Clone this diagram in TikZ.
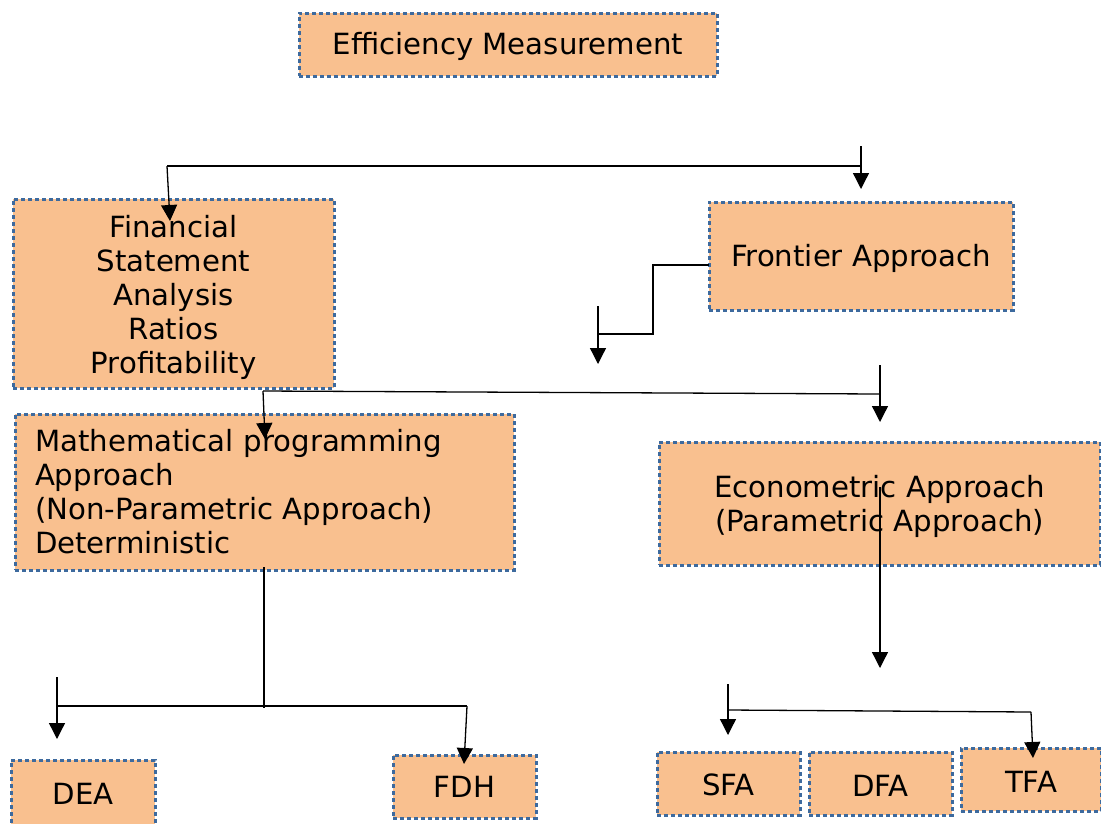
\documentclass[tikz,border=0pt]{standalone}
\usepackage{fontspec}
\setmainfont{DejaVu Sans}
\usetikzlibrary{arrows.meta}
\definecolor{boxfill}{RGB}{249,192,143}
\definecolor{boxline}{RGB}{61,106,158}
\newcommand\topstrut[1]{\rule{0pt}{#1}}
\tikzset{
  box/.style={draw=boxline, fill=boxfill, line width=3pt, dash pattern=on 4pt off 3pt,
    font=\fontsize{29.2}{34}\selectfont, inner sep=0pt, outer sep=0pt},
  link/.style={draw=black, line width=1.3pt},
  arr/.style={link, -{Triangle[length=16pt,width=16pt]}},
}
\begin{document}
\begin{tikzpicture}[x=1pt,y=-1pt]
\useasboundingbox (0,0) rectangle (1101,823);
% boxes
\node[box, minimum width=418pt, minimum height=63pt] (eff) at (508,44.5) {\topstrut{27pt}Efficiency Measurement};
\node[box, minimum width=321pt, minimum height=189pt, align=center] (fin) at (173.5,293.5)
  {\topstrut{29.5pt}Financial\\Statement\\Analysis\\Ratios\\Profitability};
\node[box, minimum width=304pt, minimum height=108pt] (front) at (861,256) {\topstrut{28pt}Frontier Approach};
\node[box, minimum width=499pt, minimum height=156pt, text width=459pt, inner xsep=20pt, align=left] (math) at (264.5,492)
  {Mathematical programming\\Approach\\(Non-Parametric Approach)\\Deterministic};
\node[box, minimum width=441pt, minimum height=123pt, align=center] (econ) at (879.5,503.5)
  {\topstrut{28pt}Econometric Approach\\(Parametric Approach)};
\node[box, minimum width=144pt, minimum height=66pt] (dea) at (83,793) {\topstrut{23pt}DEA};
\node[box, minimum width=143pt, minimum height=63pt] (fdh) at (464.5,786.5) {FDH};
\node[box, minimum width=143pt, minimum height=63pt] (sfa) at (728.5,783.5) {\topstrut{25pt}SFA};
\node[box, minimum width=143pt, minimum height=63pt] (dfa) at (880.5,783.5) {\topstrut{25pt}DFA};
\node[box, minimum width=140pt, minimum height=63pt] (tfa) at (1031,779.5) {\topstrut{25pt}TFA};
% connector points
\coordinate (a1) at (167,166);
\coordinate (a2) at (861,166);
\coordinate (a3) at (861,146);
\coordinate (a4) at (861,189);
\coordinate (a5) at (170,221);
\coordinate (b1) at (653,265);
\coordinate (b2) at (653,334);
\coordinate (b3) at (598,334);
\coordinate (b4) at (598,306);
\coordinate (b5) at (598,364);
\coordinate (c1) at (263,391);
\coordinate (c2) at (880,394);
\coordinate (c3) at (880,365);
\coordinate (c4) at (880,422);
\coordinate (c5) at (265,439);
\coordinate (d1) at (880,487);
\coordinate (d2) at (880,668);
\coordinate (e1) at (264,567);
\coordinate (e2) at (264,708);
\coordinate (e3) at (57,706);
\coordinate (e4) at (467,706);
\coordinate (e5) at (57,677);
\coordinate (e6) at (57,739);
\coordinate (e7) at (464,764);
\coordinate (f1) at (728,710);
\coordinate (f2) at (1031,712);
\coordinate (f3) at (728,684);
\coordinate (f4) at (728,735);
\coordinate (f5) at (1033,758);
% connectors
\draw[link] (a1) -- (a2);
\draw[arr] (a3) -- (a4);
\draw[arr] (a1) -- (a5);
\draw[link] (front.west |- b1) -- (b1) -- (b2) -- (b3);
\draw[arr] (b4) -- (b5);
\draw[link] (c1) -- (c2);
\draw[arr] (c3) -- (c4);
\draw[arr] (c1) -- (c5);
\draw[arr] (d1) -- (d2);
\draw[link] (e1) -- (e2);
\draw[link] (e3) -- (e4);
\draw[arr] (e5) -- (e6);
\draw[arr] (e4) -- (e7);
\draw[link] (f1) -- (f2);
\draw[arr] (f3) -- (f4);
\draw[arr] (f2) -- (f5);
\end{tikzpicture}
\end{document}
